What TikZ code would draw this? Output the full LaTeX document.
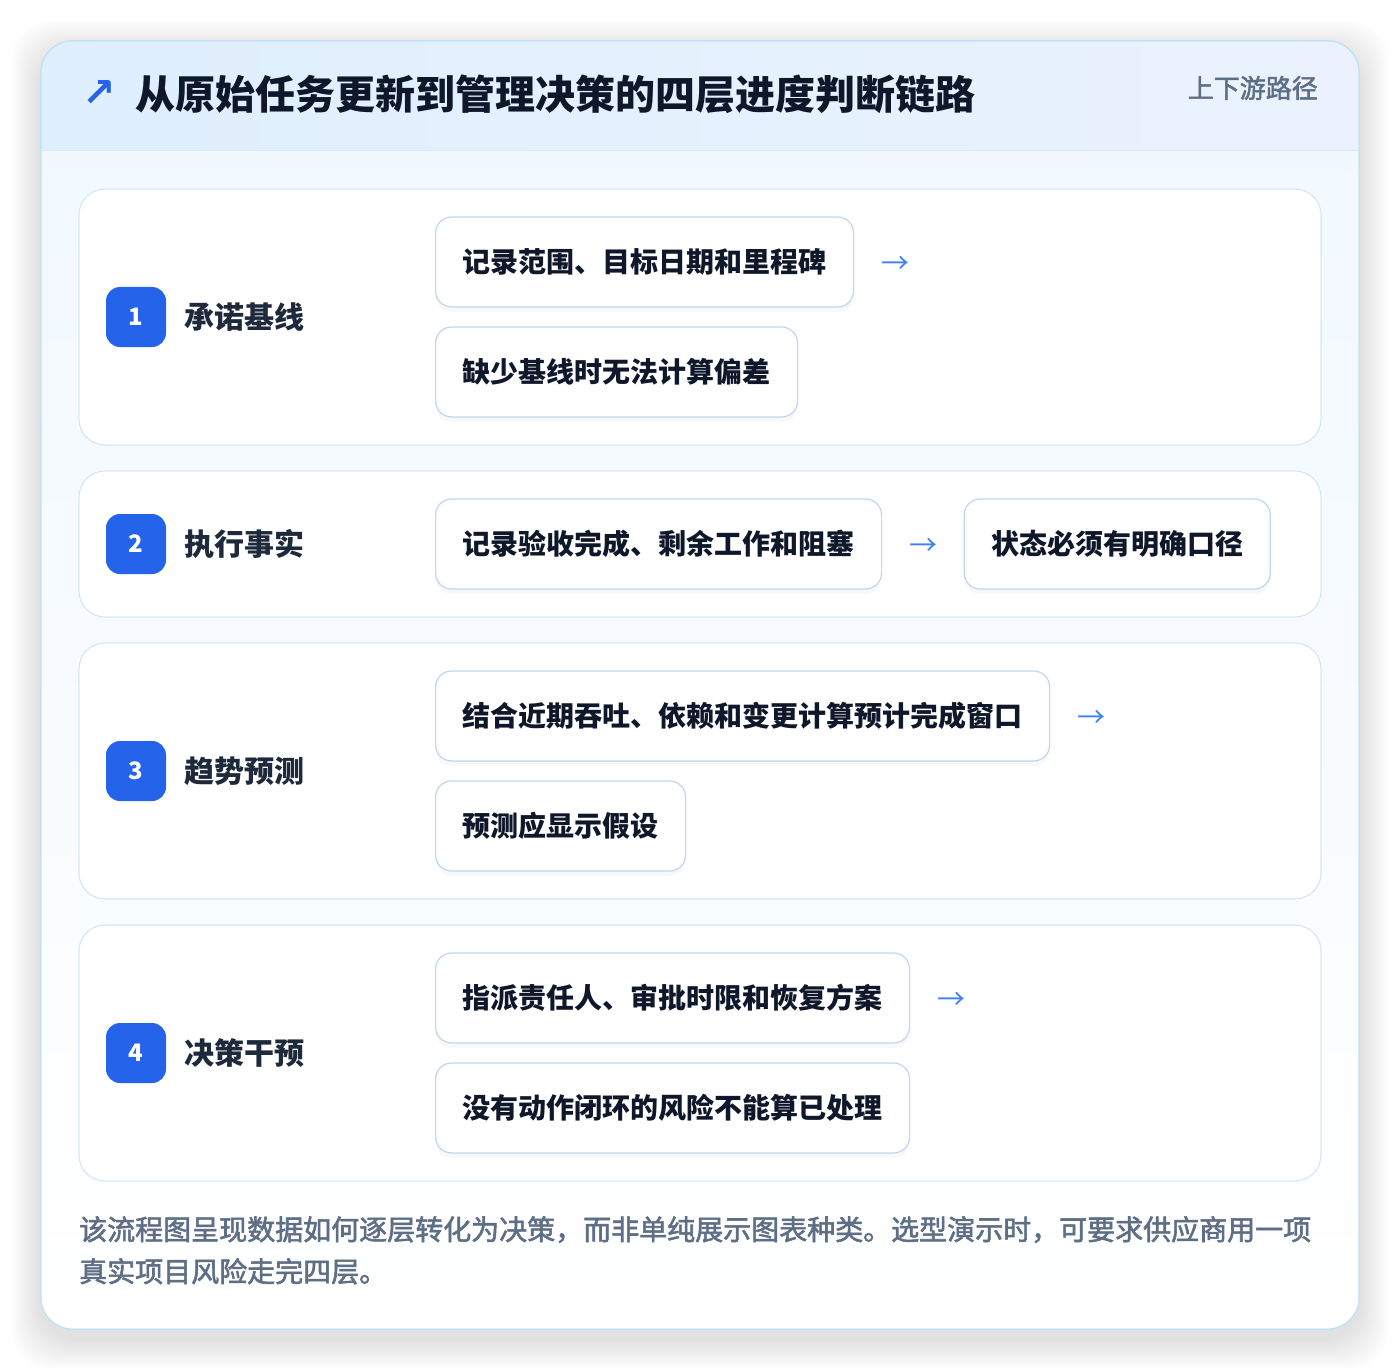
\documentclass[tikz,border=0pt]{standalone}
\usepackage{fontspec}
\setmainfont{Noto Sans CJK SC}
\newfontfamily\symfont{DejaVu Sans}
\newfontfamily\softfont{Noto Sans CJK SC}[FakeBold=2]
\usetikzlibrary{positioning,shadows}

\definecolor{ink}{HTML}{0F172A}
\definecolor{labelink}{HTML}{1E293B}
\definecolor{mutedink}{HTML}{5E6E85}
\definecolor{badgeblue}{HTML}{2563EB}
\definecolor{flowblue}{HTML}{3B82F6}
\definecolor{cardline}{HTML}{C3E2F6}
\definecolor{rowline}{HTML}{D6E8F8}
\definecolor{itemline}{HTML}{BDD7F3}
\definecolor{headleft}{HTML}{DFEFFD}
\definecolor{headright}{HTML}{EBF2FE}
\definecolor{bodytop}{HTML}{F0F8FF}

\begin{document}
\begin{tikzpicture}[x=1pt, y=-1pt,
    card/.style={fill=white, rounded corners=32pt, inner sep=0},
    row/.style={draw=rowline, line width=1.2pt, fill=white, rounded corners=26pt,
      minimum width=1242pt, inner sep=0},
    badge/.style={fill=badgeblue, rounded corners=14pt, minimum size=60pt, inner sep=0,
      text=white, font=\fontsize{24}{24}\selectfont\bfseries},
    layer/.style={anchor=west, inner sep=0, text=labelink,
      font=\fontsize{30}{30}\selectfont\bfseries},
    item/.style={draw=itemline, line width=1.2pt, fill=white, rounded corners=16pt,
      minimum height=90pt, inner xsep=27pt, inner ysep=0, anchor=west, text=ink,
      font=\fontsize{28}{28}\selectfont\bfseries,
      drop shadow={shadow xshift=0pt, shadow yshift=-5pt, opacity=0.05}},
    flow/.style={inner sep=0, text=flowblue, yshift=-3pt, font=\fontsize{28}{28}\selectfont}]
  \useasboundingbox (0,0) rectangle (1400,1372);
  \fill[white] (0,0) rectangle (1400,1372);

  \foreach \s in {2,4,...,30}
    \fill[black, fill opacity=0.007, rounded corners=40pt] (41-\s,51-\s) rectangle (1359+\s,1339+\s);
  \node[card, minimum width=1318pt, minimum height=1288pt] (card) at (700,685) {};
  \begin{scope}
    \clip[rounded corners=32pt] (card.north west) rectangle (card.south east);
    \shade[top color=bodytop, bottom color=white] (card.north west) rectangle (card.south east);
    \shade[left color=headleft, right color=headright] (card.north west) rectangle ([yshift=-110pt]card.north east);
  \end{scope}
  \draw[rowline, line width=1.2pt] ([yshift=-110pt]card.north west) -- ([yshift=-110pt]card.north east);
  \draw[cardline, line width=1.5pt, rounded corners=32pt] (card.north west) rectangle (card.south east);

  \node[text=badgeblue, inner sep=0, font=\symfont\bfseries\fontsize{40}{40}\selectfont] (mark) at (99,94) {↗};
  \node[anchor=west, inner sep=0, text=ink, font=\fontsize{40}{40}\selectfont\bfseries] (title) at (135,94) {从原始任务更新到管理决策的四层进度判断链路};
  \node[anchor=east, inner sep=0, text=mutedink, font=\softfont\fontsize{26}{26}\selectfont] (tag) at (1318,88) {上下游路径};

  \foreach \n/\y/\h/\lab in {1/317/256/承诺基线, 2/544/146/执行事实, 3/771/256/趋势预测, 4/1053/256/决策干预} {
    \node[row, minimum height=\h pt] (row\n) at (700,\y) {};
    \node[badge] (badge\n) at (136,\y) {\n};
    \node[layer] (layer\n) at (184,\y) {\lab};
  }

  \node[item] (base) at (435,262) {记录范围、目标日期和里程碑};
  \node[flow, right=27pt of base] (baseto) {→};
  \node[item] (basenote) at (435,372) {缺少基线时无法计算偏差};

  \node[item] (fact) at (435,544) {记录验收完成、剩余工作和阻塞};
  \node[flow, right=27pt of fact] (factto) {→};
  \node[item, right=26pt of factto, yshift=3pt] (factnote) {状态必须有明确口径};

  \node[item] (trend) at (435,716) {结合近期吞吐、依赖和变更计算预计完成窗口};
  \node[flow, right=27pt of trend] (trendto) {→};
  \node[item] (trendnote) at (435,826) {预测应显示假设};

  \node[item] (act) at (435,998) {指派责任人、审批时限和恢复方案};
  \node[flow, right=27pt of act] (actto) {→};
  \node[item] (actnote) at (435,1108) {没有动作闭环的风险不能算已处理};

  \node[anchor=north west, inner sep=0, align=left, text=mutedink,
    font=\softfont\fontsize{28}{42}\selectfont] (foot) at (79,1216)
    {该流程图呈现数据如何逐层转化为决策，而非单纯展示图表种类。选型演示时，可要求供应商用一项\\真实项目风险走完四层。};
\end{tikzpicture}
\end{document}
